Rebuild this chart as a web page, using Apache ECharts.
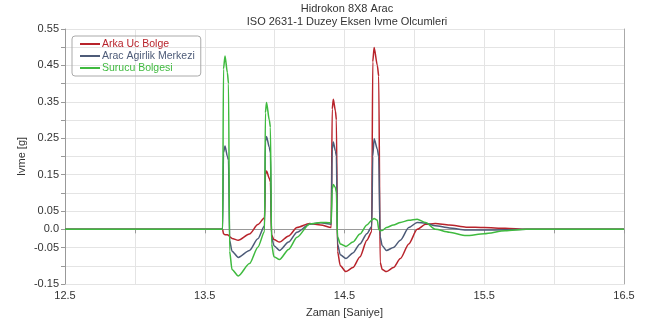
<!DOCTYPE html>
<html>
<head>
<meta charset="utf-8">
<script src="https://cdn.jsdelivr.net/npm/echarts@6/dist/echarts.min.js"></script>
<style>
  html, body { margin: 0; padding: 0; background: #fff; }
  #chart { width: 646px; height: 323px; }
</style>
</head>
<body>
<div id="chart"></div>
<script>
// zaman ekseni (saniye)
const zaman = [
  12.5, 13.628, 13.634, 13.645, 13.662, 13.67, 13.678, 13.695, 13.74, 13.82,
  13.88, 13.928, 13.934, 13.942, 13.962, 13.97, 13.978, 13.995, 14.035, 14.1,
  14.16, 14.25, 14.33, 14.405, 14.412, 14.42, 14.435, 14.442, 14.45, 14.47,
  14.51, 14.56, 14.61, 14.66, 14.695, 14.702, 14.712, 14.735, 14.745, 14.755,
  14.77, 14.8, 14.85, 14.9, 14.96, 15.02, 15.08, 15.15, 15.25, 15.37,
  15.5, 15.65, 15.8, 16.0, 16.5
];

const arkaUc = [
  0, 0, -0.012, -0.015, -0.015, -0.016, -0.02, -0.025, -0.03, -0.013,
  0.013, 0.032, 0.15, 0.16, 0.14, 0.13, -0.015, -0.028, -0.035, -0.018,
  0.005, 0.016, 0.012, 0.005, 0.33, 0.357, 0.325, 0.3, -0.06, -0.1,
  -0.116, -0.105, -0.076, -0.03, -0.006, 0.46, 0.499, 0.45, 0.42, -0.09,
  -0.11, -0.116, -0.105, -0.08, -0.04, 0.0, 0.014, 0.016, 0.012, 0.006,
  0.005, 0.003, 0, 0, 0
];

const agirlikMerkezi = [
  0, 0, 0.21, 0.229, 0.2, 0.19, -0.03, -0.06, -0.077, -0.058,
  -0.026, 0.01, 0.24, 0.255, 0.225, 0.21, -0.02, -0.045, -0.058, -0.035,
  -0.008, 0.014, 0.018, 0.014, 0.22, 0.24, 0.215, 0.2, -0.04, -0.07,
  -0.08, -0.065, -0.04, -0.012, 0.008, 0.2, 0.249, 0.22, 0.2, -0.02,
  -0.045, -0.058, -0.05, -0.03, 0.005, 0.019, 0.017, 0.01, 0.004, -0.002,
  -0.002, -0.001, 0, 0, 0
];

const surucu = [
  0, 0, 0.44, 0.476, 0.43, 0.4, -0.06, -0.11, -0.128, -0.094,
  -0.049, -0.006, 0.32, 0.348, 0.3, 0.28, -0.04, -0.075, -0.083, -0.055,
  -0.022, 0.015, 0.019, 0.018, 0.11, 0.123, 0.115, 0.1, -0.02, -0.04,
  -0.047, -0.035, -0.013, 0.012, 0.025, 0.028, 0.03, 0.025, 0.0, -0.004,
  -0.003, 0.005, 0.012, 0.019, 0.025, 0.028, 0.019, 0.0, -0.008, -0.017,
  -0.012, -0.004, 0, 0, 0
];

const seriesNames = ["Arka Uc Bolge", "Arac Agirlik Merkezi", "Surucu Bolgesi"];
const colors = ["#b8232b", "#4d5b78", "#3fba3f"];
const values = [arkaUc, agirlikMerkezi, surucu];

const font = "Liberation Sans, Arial, sans-serif";

var chart = echarts.init(document.getElementById("chart"));

var option = {
  animation: false,
  title: {
    text: "Hidrokon 8X8 Arac\nISO 2631-1 Duzey Eksen Ivme Olcumleri",
    left: 342,
    top: -3,
    textAlign: "center",
    textStyle: {
      fontFamily: font,
      fontSize: 11,
      fontWeight: "normal",
      color: "#333",
      lineHeight: 13,
    },
  },
  legend: {
    orient: "vertical",
    left: 72,
    top: 36,
    padding: [2, 6, 2, 8],
    itemGap: 0,
    itemWidth: 20,
    itemHeight: 2,
    icon: "rect",
    borderColor: "#aaa",
    borderWidth: 1,
    borderRadius: 3,
    textStyle: { fontFamily: font, fontSize: 10.5, lineHeight: 12, padding: [0, 0, 0, -3] },
    data: seriesNames.map((n, i) => ({ name: n, textStyle: { color: colors[i] } })),
  },
  grid: { left: 65, right: 22, top: 29, bottom: 35 },
  xAxis: {
    type: "value",
    min: 12.5,
    max: 16.5,
    interval: 0.5,
    name: "Zaman [Saniye]",
    nameLocation: "middle",
    nameGap: 23,
    nameTextStyle: { fontFamily: font, fontSize: 11, color: "#333" },
    axisLine: { show: true, lineStyle: { color: "#999" } },
    axisTick: { show: true, length: 4, lineStyle: { color: "#999" } },
    axisLabel: {
      fontFamily: font,
      fontSize: 11,
      color: "#333",
      margin: 6,
      formatter: (v) => (Math.round(v * 10) % 10 === 5 ? v.toFixed(1) : ""),
    },
    splitLine: { show: true, lineStyle: { color: "#e4e4e4" } },
  },
  yAxis: [
    {
      type: "value",
      min: -0.15,
      max: 0.55,
      interval: 0.05,
      name: "Ivme [g]",
      nameLocation: "middle",
      nameGap: 38,
      nameMoveOverlap: false,
      nameTextStyle: { fontFamily: font, fontSize: 11, color: "#333" },
      axisLine: { show: true, lineStyle: { color: "#999" } },
      axisTick: { show: true, length: 4, lineStyle: { color: "#999" } },
      axisLabel: {
        fontFamily: font,
        fontSize: 11,
        color: "#333",
        margin: 6,
        formatter: (v) => {
          const k = Math.round(v * 100);
          if (k === 0) return "0.0";
          return Math.abs(k) % 10 === 5 ? (k / 100).toFixed(2) : "";
        },
      },
      splitLine: { show: true, lineStyle: { color: "#e4e4e4" } },
    },
    {
      type: "value",
      position: "right",
      min: -0.15,
      max: 0.55,
      interval: 0.05,
      axisLine: { show: true, lineStyle: { color: "#aaa" } },
      axisTick: { show: false },
      axisLabel: { show: false },
      splitLine: { show: false },
    },
  ],
  series: seriesNames.map((n, i) => ({
    name: n,
    type: "line",
    showSymbol: false,
    symbol: "none",
    smooth: 0.25,
    smoothMonotone: "x",
    color: colors[i],
    lineStyle: { width: 1.5 },
    data: zaman.map((t, j) => [t, values[i][j]]),
  })),
};

chart.setOption(option);
</script>
</body>
</html>
